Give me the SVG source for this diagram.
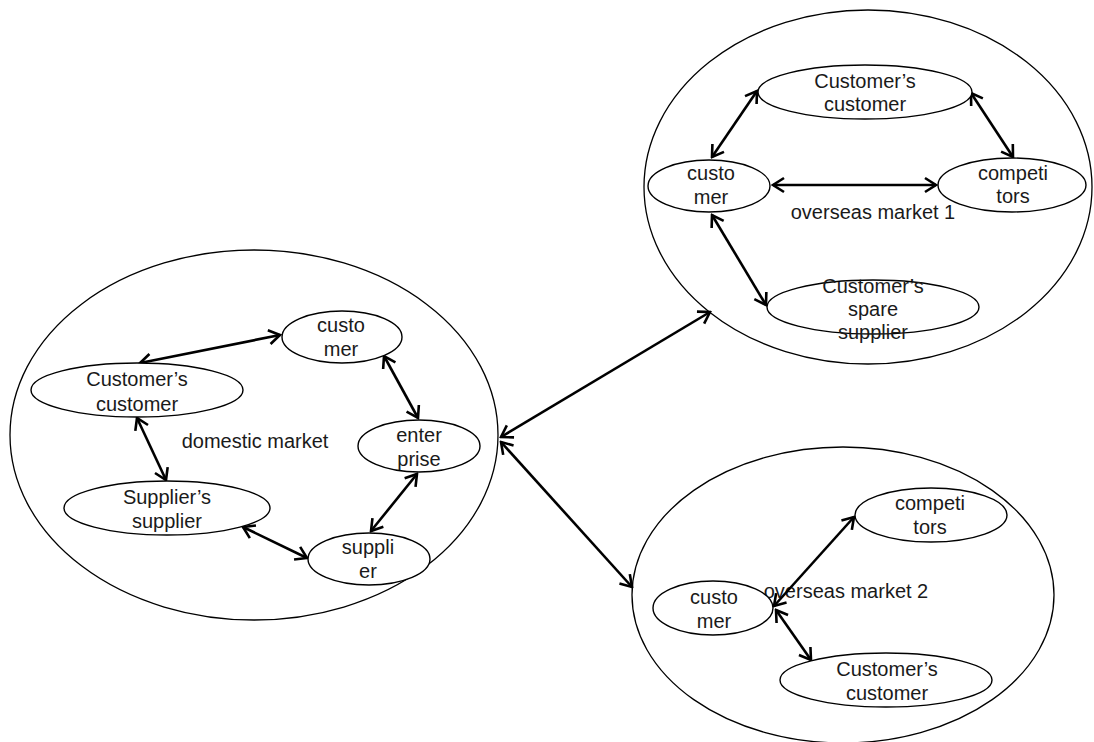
<svg xmlns="http://www.w3.org/2000/svg" width="1094" height="742" viewBox="0 0 1094 742">
<style>
.big{fill:none;stroke:#000;stroke-width:1.3}
.node{fill:#fff;stroke:#000;stroke-width:1.4}
.t{font-family:"Liberation Sans",Arial,sans-serif;font-size:20px;fill:#1a1a1a;text-anchor:middle}
.c{stroke:#000;stroke-width:2.6;fill:none;marker-start:url(#ah);marker-end:url(#ah)}
</style>
<defs>
<marker id="ah" markerUnits="userSpaceOnUse" viewBox="-14 -9 16 18" refX="0" refY="0" markerWidth="16" markerHeight="18" orient="auto-start-reverse">
<path d="M-11,-7 L0,0 L-11,7" fill="none" stroke="#000" stroke-width="2.6" stroke-linejoin="miter"/>
</marker>
</defs>
<rect width="1094" height="742" fill="#fff"/>
<g id="domestic-market">
<ellipse class="big" cx="254" cy="435" rx="244" ry="185"/>
<text class="t" x="255" y="448">domestic market</text>
</g>
<g id="overseas-market-1">
<ellipse class="big" cx="868" cy="187" rx="224" ry="177"/>
<text class="t" x="873" y="219">overseas market 1</text>
</g>
<g id="overseas-market-2">
<ellipse class="big" cx="843" cy="595" rx="211" ry="148"/>
<text class="t" x="846" y="598">overseas market 2</text>
</g>
<g id="connectors">
<line class="c" x1="140" y1="363" x2="280" y2="335"/>
<line class="c" x1="384" y1="356" x2="418" y2="418"/>
<line class="c" x1="137" y1="418" x2="166" y2="480"/>
<line class="c" x1="417" y1="474" x2="371" y2="531"/>
<line class="c" x1="243" y1="527" x2="307" y2="558"/>
<line class="c" x1="712" y1="157" x2="757" y2="91"/>
<line class="c" x1="971" y1="93" x2="1013" y2="157"/>
<line class="c" x1="773" y1="185" x2="936" y2="185"/>
<line class="c" x1="712" y1="215" x2="766" y2="305"/>
<line class="c" x1="501" y1="437" x2="710" y2="312"/>
<line class="c" x1="501" y1="442" x2="632" y2="587"/>
<line class="c" x1="774" y1="606" x2="854" y2="517"/>
<line class="c" x1="776" y1="610" x2="811" y2="660"/>
</g>
<g id="d-customer">
<ellipse class="node" cx="342" cy="337" rx="60" ry="26"/>
<text class="t" x="341" y="332">custo</text><text class="t" x="341" y="356">mer</text>
</g>
<g id="d-customers-customer">
<ellipse class="node" cx="137" cy="390" rx="106" ry="27"/>
<text class="t" x="137" y="386">Customer’s</text><text class="t" x="137" y="411">customer</text>
</g>
<g id="d-enterprise">
<ellipse class="node" cx="419" cy="446" rx="61" ry="26"/>
<text class="t" x="419" y="442">enter</text><text class="t" x="419" y="466">prise</text>
</g>
<g id="d-suppliers-supplier">
<ellipse class="node" cx="167" cy="508" rx="103" ry="27"/>
<text class="t" x="167" y="504">Supplier’s</text><text class="t" x="167" y="528">supplier</text>
</g>
<g id="d-supplier">
<ellipse class="node" cx="369" cy="559" rx="61" ry="26"/>
<text class="t" x="368" y="554">suppli</text><text class="t" x="368" y="578">er</text>
</g>
<g id="o1-customers-customer">
<ellipse class="node" cx="865" cy="92" rx="107" ry="27"/>
<text class="t" x="865" y="88">Customer’s</text><text class="t" x="865" y="111">customer</text>
</g>
<g id="o1-customer">
<ellipse class="node" cx="709" cy="186" rx="61" ry="26"/>
<text class="t" x="711" y="180">custo</text><text class="t" x="711" y="204">mer</text>
</g>
<g id="o1-competitors">
<ellipse class="node" cx="1012" cy="185" rx="74" ry="27"/>
<text class="t" x="1013" y="180">competi</text><text class="t" x="1013" y="203">tors</text>
</g>
<g id="o1-spare-supplier">
<ellipse class="node" cx="873" cy="307" rx="106" ry="27"/>
<text class="t" x="873" y="293">Customer’s</text><text class="t" x="873" y="316">spare</text><text class="t" x="873" y="339">supplier</text>
</g>
<g id="o2-competitors">
<ellipse class="node" cx="931" cy="515" rx="76" ry="27"/>
<text class="t" x="930" y="510">competi</text><text class="t" x="930" y="534">tors</text>
</g>
<g id="o2-customer">
<ellipse class="node" cx="713" cy="608" rx="60" ry="27"/>
<text class="t" x="714" y="604">custo</text><text class="t" x="714" y="628">mer</text>
</g>
<g id="o2-customers-customer">
<ellipse class="node" cx="886" cy="680" rx="106" ry="27"/>
<text class="t" x="887" y="676">Customer’s</text><text class="t" x="887" y="700">customer</text>
</g>
</svg>
